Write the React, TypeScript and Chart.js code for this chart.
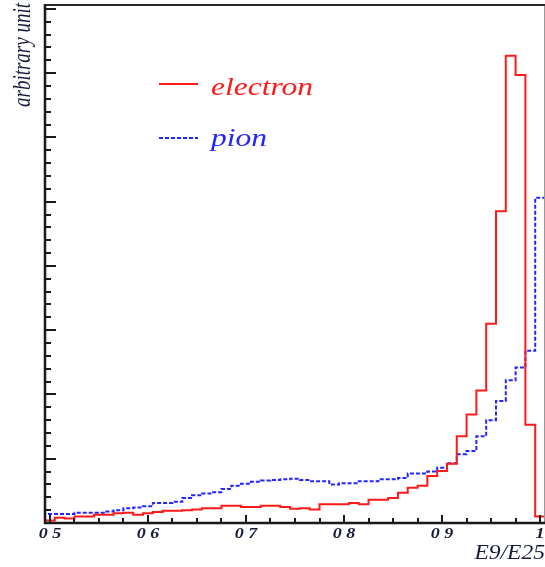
import { useEffect, useRef } from 'react';
import { Chart, registerables } from 'chart.js';

Chart.register(...registerables);

// Histogram binning: 51 bins of width 0.01, first bin centred on 0.50
const BIN_LOW = 0.495;
const BIN_WIDTH = 0.01;

// Bin contents (arbitrary units), bins centred on 0.50, 0.51, ..., 1.00
const ELECTRON = [
  4, 8, 7, 10, 10, 13, 13, 15, 16, 13,
  15, 17, 19, 19, 20, 21, 23, 23, 27, 27,
  25, 25, 27, 27, 25, 22, 23, 21, 29, 29,
  29, 31, 29, 36, 36, 39, 47, 55, 58, 73,
  81, 92, 135, 169, 206, 310, 485, 727, 697, 153,
  10,
];
const PION = [
  14, 14, 14, 16, 16, 16, 18, 20, 23, 24,
  26, 31, 31, 33, 39, 43, 46, 48, 53, 58,
  61, 64, 66, 67, 68, 69, 67, 65, 65, 60,
  62, 62, 65, 65, 68, 68, 70, 77, 77, 80,
  86, 93, 107, 112, 135, 160, 190, 222, 242, 268,
  506,
];

const SERIES_LABELS = ['electron', 'pion'];
const SERIES_COLORS = ['#ff1a1a', '#2424ff'];

const X_MIN = 0.495;
const X_MAX = 1.005;
const X_TICKS = [0.5, 0.6, 0.7, 0.8, 0.9, 1.0];
const X_TICK_LABELS = ['0 5', '0 6', '0 7', '0 8', '0 9', '1'];
const X_MINOR_STEP = 0.025;

const Y_MAX = 806;
const Y_MAJOR_STEP = 100;
const Y_MINOR_STEP = 20;

const X_TITLE = 'E9/E25';
const Y_TITLE = 'arbitrary unit';

const TEXT_COLOR = '#181c3c';
const SERIF = '"Liberation Serif", "Times New Roman", serif';

// Outline of a histogram: each point opens a bin at its lower edge,
// drawn with 'before' steps so the level holds until the next edge
function histogramOutline(values: number[]) {
  const pts: { x: number; y: number }[] = [{ x: BIN_LOW, y: 0 }];
  values.forEach((v, i) => pts.push({ x: BIN_LOW + i * BIN_WIDTH, y: v }));
  const hi = BIN_LOW + values.length * BIN_WIDTH;
  pts.push({ x: hi, y: values[values.length - 1] });
  pts.push({ x: hi, y: 0 });
  return pts;
}

function drawText(
  ctx: CanvasRenderingContext2D,
  text: string,
  x: number,
  y: number,
  size: number,
  color: string,
  stretch: number,
  align: CanvasTextAlign,
  weight = 'normal',
) {
  ctx.save();
  ctx.translate(x, y);
  ctx.scale(stretch, 1);
  ctx.font = `italic ${weight} ${size}px ${SERIF}`;
  ctx.fillStyle = color;
  ctx.textAlign = align;
  ctx.textBaseline = 'alphabetic';
  ctx.fillText(text, 0, 0);
  ctx.restore();
}

const framePlugin = {
  id: 'rootFrame',
  afterDatasetsDraw(chart: any) {
    const { ctx, chartArea } = chart;
    const xs = chart.scales.x;
    const ys = chart.scales.y;
    const { left, right, top, bottom } = chartArea;

    ctx.save();
    // frame
    ctx.strokeStyle = '#999999';
    ctx.lineWidth = 1;
    ctx.beginPath();
    ctx.moveTo(right - 0.5, top);
    ctx.lineTo(right - 0.5, bottom);
    ctx.stroke();

    ctx.strokeStyle = '#2a2a2a';
    ctx.lineWidth = 2;
    ctx.beginPath();
    ctx.moveTo(left, top);
    ctx.lineTo(right, top);
    ctx.stroke();

    ctx.lineWidth = 2.5;
    ctx.strokeStyle = '#1a1a1a';
    ctx.beginPath();
    ctx.moveTo(left, top - 1);
    ctx.lineTo(left, bottom + 1);
    ctx.moveTo(left - 1, bottom);
    ctx.lineTo(right, bottom);
    ctx.stroke();

    // inward ticks on the y axis
    ctx.lineWidth = 2;
    for (let v = 0; v <= Y_MAX + 1e-9; v += Y_MINOR_STEP) {
      const py = Math.round(ys.getPixelForValue(v));
      const major = Math.abs(v / Y_MAJOR_STEP - Math.round(v / Y_MAJOR_STEP)) < 1e-6;
      ctx.beginPath();
      ctx.moveTo(left, py);
      ctx.lineTo(left + (major ? 11 : 6), py);
      ctx.stroke();
    }
    // inward ticks on the x axis
    for (let v = X_TICKS[0]; v <= X_TICKS[X_TICKS.length - 1] + 1e-9; v += X_MINOR_STEP) {
      const px = Math.round(xs.getPixelForValue(v));
      const major = X_TICKS.some((t) => Math.abs(t - v) < 1e-6);
      ctx.beginPath();
      ctx.moveTo(px, bottom);
      ctx.lineTo(px, bottom - (major ? 8 : 5));
      ctx.stroke();
    }
    ctx.restore();

    // tick labels
    X_TICKS.forEach((t, i) => {
      drawText(ctx, X_TICK_LABELS[i], xs.getPixelForValue(t), bottom + 15, 15, TEXT_COLOR, 1.2, 'center', 'bold');
    });

    // axis titles
    drawText(ctx, X_TITLE, 545, 559, 21, TEXT_COLOR, 1.12, 'right');
    ctx.save();
    ctx.translate(23, 3);
    ctx.rotate(-Math.PI / 2);
    ctx.scale(1, 1.3);
    ctx.font = `italic 19px ${SERIF}`;
    ctx.fillStyle = TEXT_COLOR;
    ctx.textAlign = 'right';
    ctx.textBaseline = 'middle';
    ctx.fillText(Y_TITLE, 0, 0);
    ctx.restore();

    // legend
    const legendRows = [95, 146];
    const lineRows = [84, 138];
    SERIES_LABELS.forEach((label, i) => {
      ctx.save();
      ctx.strokeStyle = SERIES_COLORS[i];
      ctx.lineWidth = 2;
      ctx.setLineDash(i === 0 ? [] : [4, 2]);
      ctx.beginPath();
      ctx.moveTo(159, lineRows[i]);
      ctx.lineTo(198, lineRows[i]);
      ctx.stroke();
      ctx.restore();
      drawText(ctx, label, 211, legendRows[i], 25, SERIES_COLORS[i], 1.26, 'left');
    });
  },
};

export default function App() {
  const canvasRef = useRef<HTMLCanvasElement>(null);

  useEffect(() => {
    const canvas = canvasRef.current;
    if (!canvas) return;
    const chart = new Chart(canvas, {
      type: 'line',
      data: {
        datasets: [
          {
            label: SERIES_LABELS[0],
            data: histogramOutline(ELECTRON),
            borderColor: SERIES_COLORS[0],
            borderWidth: 2,
            stepped: 'before',
            pointRadius: 0,
            fill: false,
          },
          {
            label: SERIES_LABELS[1],
            data: histogramOutline(PION),
            borderColor: SERIES_COLORS[1],
            borderWidth: 2,
            borderDash: [4, 2],
            stepped: 'before',
            pointRadius: 0,
            fill: false,
          },
        ],
      },
      options: {
        animation: false,
        responsive: false,
        maintainAspectRatio: false,
        layout: { padding: { top: 5, right: 0, left: 0, bottom: 0 } },
        plugins: {
          legend: { display: false },
          tooltip: { enabled: false },
          title: { display: false },
        },
        scales: {
          x: {
            type: 'linear',
            min: X_MIN,
            max: X_MAX,
            grid: { display: false },
            border: { display: false },
            ticks: { display: false },
            afterFit: (scale: any) => {
              scale.height = 44;
            },
          },
          y: {
            type: 'linear',
            min: 0,
            max: Y_MAX,
            grid: { display: false },
            border: { display: false },
            ticks: { display: false },
            afterFit: (scale: any) => {
              scale.width = 45;
            },
          },
        },
      },
      plugins: [framePlugin],
    });
    return () => chart.destroy();
  }, []);

  return (
    <div style={{ position: 'fixed', left: 0, top: 0, width: 545, height: 567, background: '#ffffff' }}>
      <canvas ref={canvasRef} width={545} height={567} style={{ display: 'block' }} />
    </div>
  );
}
